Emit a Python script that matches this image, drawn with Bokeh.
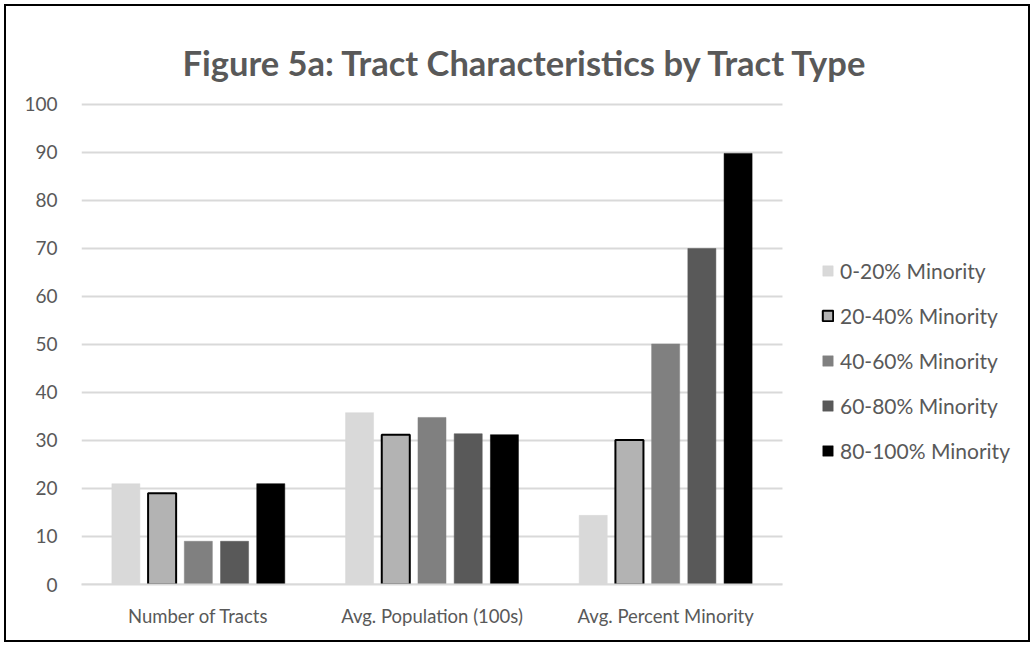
from bokeh.plotting import figure
from bokeh.models import ColumnDataSource, Legend, LegendItem, Title, Range1d, FixedTicker
from bokeh.transform import dodge
from bokeh.embed import file_html
from bokeh.resources import INLINE

categories = ["Number of Tracts", "Avg. Population (100s)", "Avg. Percent Minority"]
series = ["0-20% Minority", "20-40% Minority", "40-60% Minority", "60-80% Minority", "80-100% Minority"]
v_0_20 = [21, 35.8, 14.4]
v_20_40 = [19, 31.2, 30.1]
v_40_60 = [9, 34.8, 50.1]
v_60_80 = [9, 31.4, 70]
v_80_100 = [21, 31.2, 89.8]
values = [v_0_20, v_20_40, v_40_60, v_60_80, v_80_100]
colors = ["#d9d9d9", "#b3b3b3", "#808080", "#595959", "#000000"]
outlines = ["#d9d9d9", "#000000", "#808080", "#595959", "#000000"]
offsets = [-0.31, -0.155, 0.0, 0.155, 0.31]
y_ticks = list(range(0, 101, 10))
title_text = "Figure 5a: Tract Characteristics by Tract Type"

FONT = "Lato"
TXT = "#595959"
n = len(categories)
centers = [i + 0.5 for i in range(n)]

p = figure(x_range=Range1d(0, 4.07), y_range=(0, 100.4),
           width=1026, height=638, output_backend="svg", toolbar_location=None,
           min_border_left=75, min_border_right=0, min_border_top=96, min_border_bottom=60)
p.styles = {"border": "2px solid black", "margin": "4px"}

# horizontal gridlines limited to the category area
p.segment(x0=0, x1=n, y0=y_ticks, y1=y_ticks, line_color="#d9d9d9", line_width=2)

src = ColumnDataSource(dict(xc=centers, **{f"s{i}": v for i, v in enumerate(values)}))
renderers = []
for i, s in enumerate(series):
    r = p.vbar(x=dodge("xc", offsets[i]), top=f"s{i}", width=0.12,
               source=src, fill_color=colors[i], line_color=outlines[i],
               line_width=2 if i == 1 else 0.5)
    renderers.append(r)

legend = Legend(items=[LegendItem(label=s, renderers=[renderers[i]]) for i, s in enumerate(series)],
                location=(740, 121), orientation="vertical", padding=0, margin=0,
                border_line_color=None, background_fill_alpha=0,
                glyph_width=13, glyph_height=13, spacing=20, label_standoff=6,
                label_text_font=FONT, label_text_font_size="21px", label_text_color=TXT)
p.add_layout(legend, "center")

p.title = Title(text=title_text, align="left", offset=101, standoff=37,
                vertical_align="middle",
                text_font=FONT, text_font_size="34.5px",
                text_font_style="bold", text_color=TXT)

p.xgrid.grid_line_color = None
p.ygrid.grid_line_color = None
p.yaxis.ticker = y_ticks
p.yaxis.axis_line_color = None
p.yaxis.major_tick_line_color = None
p.yaxis.minor_tick_line_color = None
p.yaxis.major_label_text_font = FONT
p.yaxis.major_label_text_font_size = "19px"
p.yaxis.major_label_text_color = TXT
p.yaxis.major_label_standoff = 18
p.xaxis.ticker = FixedTicker(ticks=centers)
p.xaxis.major_label_overrides = {c: lab for c, lab in zip(centers, categories)}
p.xaxis.bounds = (0, n)
p.xaxis.axis_line_color = "#d9d9d9"
p.xaxis.axis_line_width = 2
p.xaxis.major_tick_line_color = None
p.xaxis.minor_tick_line_color = None
p.xaxis.major_label_text_font = FONT
p.xaxis.major_label_text_font_size = "18.5px"
p.xaxis.major_label_text_color = TXT
p.xaxis.major_label_standoff = 14
p.outline_line_color = None

open("out.html", "w").write(file_html(p, INLINE))
